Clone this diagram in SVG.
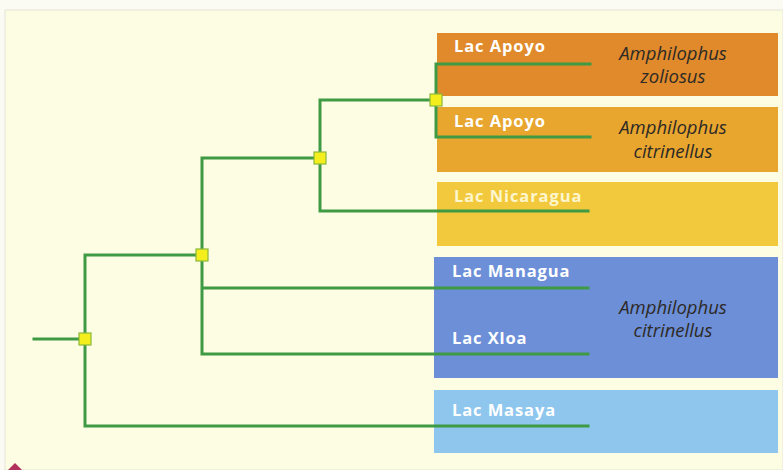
<svg xmlns="http://www.w3.org/2000/svg" width="783" height="470" viewBox="0 0 783 470">
<style>
.lake{font-family:"Open Sans","Noto Sans",sans-serif;font-weight:700;font-size:16.5px;letter-spacing:0.9px;fill:#ffffff}
.sp{font-family:"Open Sans","Noto Sans",sans-serif;font-style:italic;font-size:18.5px;fill:#2e2a26;text-anchor:middle}
.br{fill:none;stroke:#3f9a44;stroke-width:3;stroke-linecap:square}
.nd{fill:#f4ee1c;stroke:#8bb83a;stroke-width:1.2}
</style>
<rect x="0" y="0" width="783" height="470" fill="#fbfbf4"/>
<rect x="5" y="10" width="778" height="460" fill="#fdfde3" stroke="#e6e4d8" stroke-width="1"/>
<polygon points="8,470 15,463 22,470" fill="#b0325a"/>
<g id="box-apoyo-zoliosus">
<rect x="437" y="33" width="341" height="63" fill="#e08a2c"/>
<text class="lake" x="454" y="52">Lac Apoyo</text>
<text class="sp" x="673" y="60">Amphilophus</text>
<text class="sp" x="673" y="83">zoliosus</text>
</g>
<g id="box-apoyo-citrinellus">
<rect x="437" y="107" width="341" height="65" fill="#e8a62f"/>
<text class="lake" x="454" y="127">Lac Apoyo</text>
<text class="sp" x="673" y="134">Amphilophus</text>
<text class="sp" x="673" y="158">citrinellus</text>
</g>
<g id="box-nicaragua">
<rect x="437" y="182" width="341" height="64" fill="#f2c93c"/>
<text class="lake" x="454" y="202" style="fill:#fdf6cc">Lac Nicaragua</text>
</g>
<g id="box-managua-xloa">
<rect x="434" y="257" width="344" height="121" fill="#6c8fd8"/>
<text class="lake" x="452" y="277">Lac Managua</text>
<text class="lake" x="452" y="344">Lac Xloa</text>
<text class="sp" x="673" y="314">Amphilophus</text>
<text class="sp" x="673" y="337">citrinellus</text>
</g>
<g id="box-masaya">
<rect x="434" y="390" width="344" height="63" fill="#8ec6ee"/>
<text class="lake" x="452" y="416">Lac Masaya</text>
</g>
<g id="connectors">
<path class="br" d="M34,339 H85 M85,255 V426 H588 M85,255 H202 M202,158 V354 H588 M202,288 H588 M202,158 H320 M320,100 V211 H588 M320,100 H436 M436,64 V137 H590 M436,64 H590"/>
</g>
<g id="node-root"><rect class="nd" x="79" y="333" width="12" height="12"/></g>
<g id="node-2"><rect class="nd" x="196" y="249" width="12" height="12"/></g>
<g id="node-3"><rect class="nd" x="314" y="152" width="12" height="12"/></g>
<g id="node-4"><rect class="nd" x="430" y="94" width="12" height="12"/></g>
</svg>
